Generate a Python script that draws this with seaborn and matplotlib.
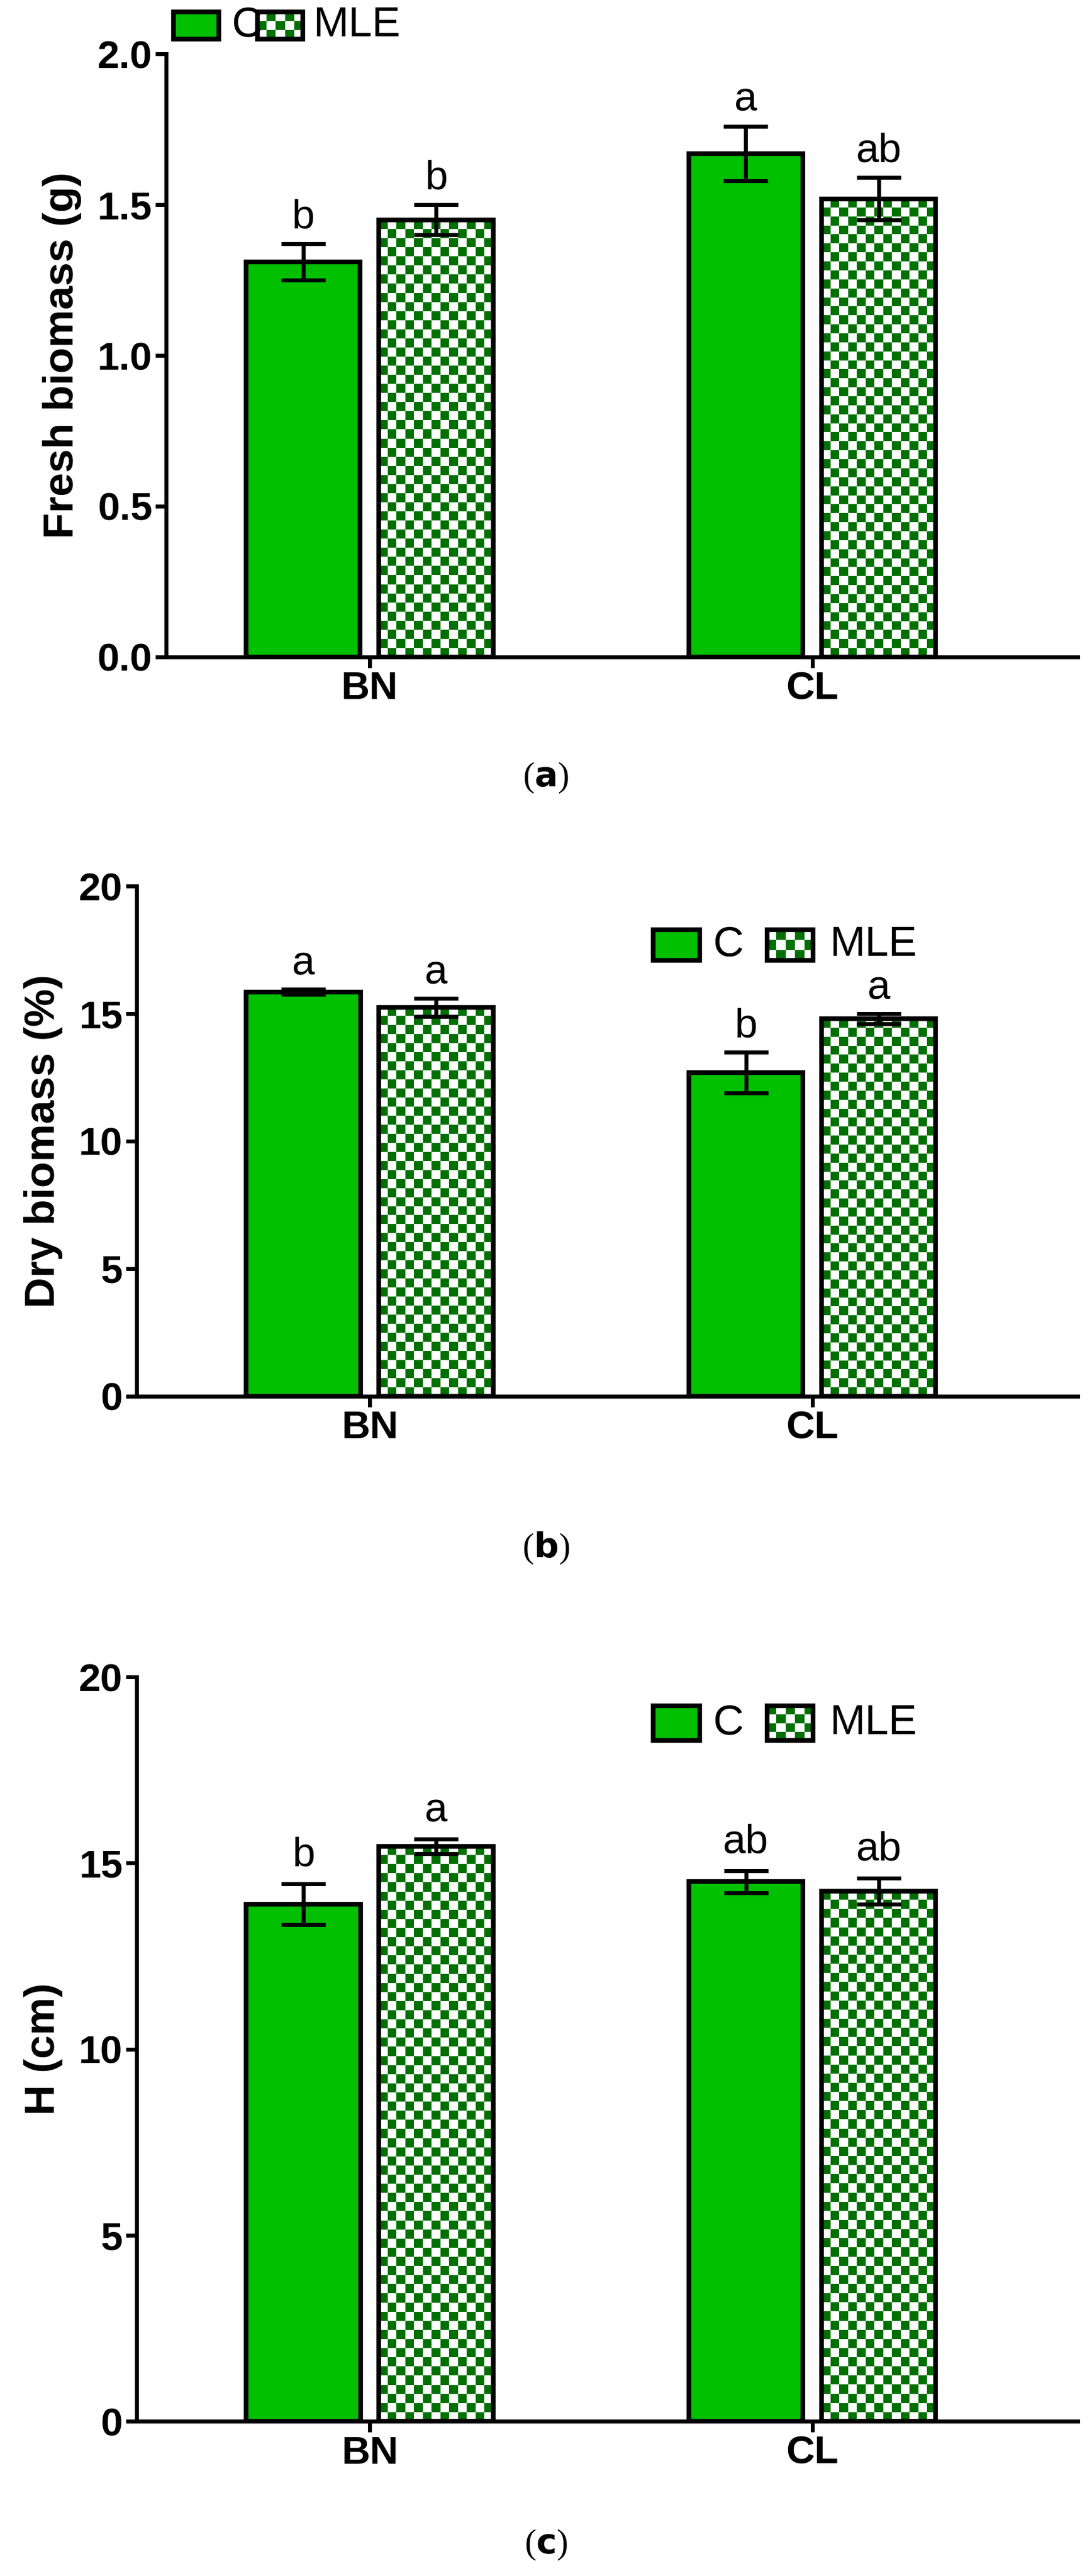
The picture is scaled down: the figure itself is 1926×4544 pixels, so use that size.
import numpy as np
import pandas as pd
import matplotlib
matplotlib.use("Agg")
import matplotlib.pyplot as plt
from matplotlib.patches import Rectangle
import seaborn as sns

plt.rcParams["font.family"] = "Liberation Sans"

sites = ["BN", "CL"]
treatments = ["C", "MLE"]

fresh_c = [1.31, 1.67]
fresh_c_err = [0.06, 0.09]
fresh_mle = [1.45, 1.52]
fresh_mle_err = [0.05, 0.07]
fresh_letters_c = ["b", "a"]
fresh_letters_mle = ["b", "ab"]

dry_c = [15.85, 12.7]
dry_c_err = [0.1, 0.8]
dry_mle = [15.25, 14.8]
dry_mle_err = [0.35, 0.2]
dry_letters_c = ["a", "b"]
dry_letters_mle = ["a", "a"]

h_c = [13.9, 14.5]
h_c_err = [0.55, 0.3]
h_mle = [15.45, 14.25]
h_mle_err = [0.2, 0.35]
h_letters_c = ["b", "ab"]
h_letters_mle = ["a", "ab"]

GREEN = "#00c000"
DARK = "#007000"

fig = plt.figure(figsize=(19.26, 45.44), dpi=100)


def checker(ax, x0, y0, w, h, trans, clip, cell_px=16):
    # checkerboard fill clipped to a patch
    fig.canvas.draw()
    p0 = trans.transform((x0, y0))
    p1 = trans.transform((x0 + w, y0 + h))
    nx = max(1, int(round(abs(p1[0] - p0[0]) / cell_px)))
    ny = max(1, int(round(abs(p1[1] - p0[1]) / cell_px)))
    grid = (np.add.outer(np.arange(ny), np.arange(nx)) % 2)
    cmap = matplotlib.colors.ListedColormap(["white", DARK])
    im = ax.imshow(grid, cmap=cmap, extent=(x0, x0 + w, y0, y0 + h),
                   transform=trans, aspect="auto", interpolation="nearest",
                   zorder=2.5, origin="lower")
    im.set_clip_path(clip)
    return im


def panel(rect, c, c_err, m, m_err, lc, lm, ylabel, ymax, step, yfmt,
          xlim, leg, tag, tag_y):
    ax = fig.add_axes(rect)
    df = pd.DataFrame({"site": sites * 2,
                       "trt": ["C"] * 2 + ["MLE"] * 2,
                       "val": c + m})
    sns.barplot(data=df, x="site", y="val", hue="trt", order=sites,
                hue_order=treatments, palette=[GREEN, "white"], saturation=1,
                width=0.6, edgecolor="black", linewidth=6, ax=ax,
                legend=False, errorbar=None, zorder=2)
    ax.set_xlim(*xlim)
    ax.set_ylim(0, ymax)
    patches = list(ax.patches)
    vals = c + m
    errs = c_err + m_err
    letters = lc + lm
    for i, p in enumerate(patches[:4]):
        cx = p.get_x() + p.get_width() / 2
        nw = p.get_width() * 0.86
        p.set_x(cx - nw / 2)
        p.set_width(nw)
        p.set_zorder(3)
        if i >= 2:
            p.set_facecolor("none")
            checker(ax, p.get_x(), 0, nw, vals[i], ax.transData, p)
        ax.errorbar(cx, vals[i], yerr=errs[i], color="black", lw=5,
                    capsize=28, capthick=5, zorder=4)
        ax.text(cx, vals[i] + errs[i] + ymax * 0.012, letters[i],
                ha="center", va="bottom", fontsize=52, zorder=5)
    sns.despine(ax=ax)
    for s in ["left", "bottom"]:
        ax.spines[s].set_linewidth(5)
    ticks = np.arange(0, ymax + step / 2, step)
    ax.set_yticks(ticks)
    ax.set_yticklabels([yfmt.format(v) for v in ticks])
    ax.tick_params(axis="both", width=5, length=14, labelsize=50)
    for t in ax.get_xticklabels() + ax.get_yticklabels():
        t.set_fontweight("bold")
    ax.set_xlabel("")
    ax.set_ylabel(ylabel, fontsize=54, fontweight="bold", labelpad=20)
    # legend drawn by hand so the checkerboard shows
    bx, by, bw, bh, tx, mx, mtx = leg
    r1 = Rectangle((bx, by), bw, bh, transform=ax.transAxes, facecolor=GREEN,
                   edgecolor="black", lw=6, clip_on=False, zorder=5)
    ax.add_patch(r1)
    ax.text(tx, by + bh / 2, "C", transform=ax.transAxes, va="center",
            fontsize=54)
    r2 = Rectangle((mx, by), bw, bh, transform=ax.transAxes, facecolor="none",
                   edgecolor="black", lw=6, clip_on=False, zorder=6)
    ax.add_patch(r2)
    im = checker(ax, mx, by, bw, bh, ax.transAxes, r2)
    im.set_clip_on(False)
    im.set_clip_path(r2)
    ax.text(mtx, by + bh / 2, "MLE", transform=ax.transAxes, va="center",
            fontsize=54)
    fig.text(0.5, tag_y, "(" + r"$\mathbf{" + tag + "}$" + ")", ha="center",
             va="center", fontsize=44, family="Liberation Serif")
    return ax


panel([0.152, 0.745, 0.835, 0.234], fresh_c, fresh_c_err, fresh_mle,
      fresh_mle_err, fresh_letters_c, fresh_letters_mle, "Fresh biomass (g)",
      2.0, 0.5, "{:.1f}", (-0.46, 1.6),
      (0.008, 1.025, 0.05, 0.045, 0.072, 0.1, 0.162), "a", 0.698)
panel([0.125, 0.458, 0.862, 0.198], dry_c, dry_c_err, dry_mle, dry_mle_err,
      dry_letters_c, dry_letters_mle, "Dry biomass (%)", 20, 5, "{:.0f}",
      (-0.527, 1.6), (0.549, 0.855, 0.049, 0.06, 0.612, 0.67, 0.737),
      "b", 0.399)
panel([0.125, 0.06, 0.862, 0.289], h_c, h_c_err, h_mle, h_mle_err,
      h_letters_c, h_letters_mle, "H (cm)", 20, 5, "{:.0f}",
      (-0.527, 1.6), (0.549, 0.915, 0.049, 0.046, 0.612, 0.67, 0.737),
      "c", 0.012)

fig.savefig("out.png", dpi=100, facecolor="white")
